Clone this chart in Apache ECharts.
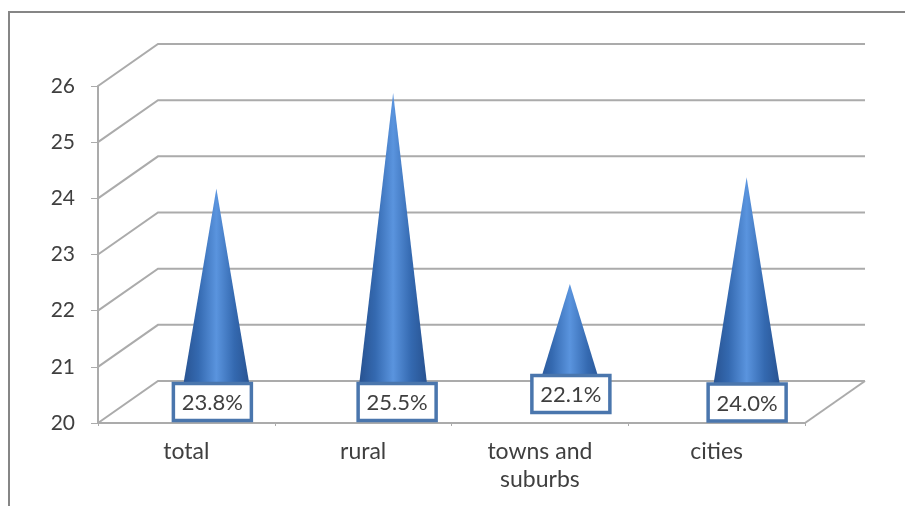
<!DOCTYPE html>
<html>
<head>
<meta charset="utf-8">
<style>html,body{margin:0;padding:0;background:#fff}#c{width:905px;height:506px}</style>
<script src="https://cdn.jsdelivr.net/npm/echarts@6/dist/echarts.min.js"></script>
</head>
<body>
<div id="c"></div>
<script>
const categories = ['total', 'rural', 'towns and\nsuburbs', 'cities'];
const shares = [23.8, 25.5, 22.1, 24.0];
const wallTicks = [20, 21, 22, 23, 24, 25, 26];

// Oblique projection of the pseudo-3D box: back wall sits up and to the right.
const DEPTH_X = 60, DEPTH_Y = -42;
const BASE_HALF = 36;
const GRID_COLOR = '#ababab';
const TEXT_COLOR = '#3f3f3f';
const FONT = 'Lato';

const coneFill = new echarts.graphic.LinearGradient(0, 0, 1, 0, [
  { offset: 0, color: '#264f8c' },
  { offset: 0.25, color: '#3469b0' },
  { offset: 0.5, color: '#5a94de' },
  { offset: 0.75, color: '#3469b0' },
  { offset: 1, color: '#264f8c' }
]);

function renderWall(params, api) {
  const rect = params.coordSys;
  const y = api.coord([0, wallTicks[params.dataIndex]])[1];
  const left = rect.x, right = rect.x + rect.width;
  const children = [{
    type: 'polyline',
    shape: { points: [[left, y], [left + DEPTH_X, y + DEPTH_Y], [right + DEPTH_X, y + DEPTH_Y]] },
    style: { stroke: GRID_COLOR, lineWidth: 2, fill: 'none' }
  }];
  if (params.dataIndex === 0) {
    children.push({
      type: 'line',
      shape: { x1: right, y1: y, x2: right + DEPTH_X, y2: y + DEPTH_Y },
      style: { stroke: GRID_COLOR, lineWidth: 2 }
    });
  }
  return { type: 'group', children };
}

function renderCone(params, api) {
  const idx = api.value(0);
  const tip = api.coord([idx, api.value(1)]);
  const foot = api.coord([idx, wallTicks[0]]);
  const cx = tip[0] + DEPTH_X / 2;
  const shift = DEPTH_Y / 2;
  return {
    type: 'polygon',
    shape: { points: [[cx, tip[1] + shift], [cx + BASE_HALF, foot[1] + shift], [cx - BASE_HALF, foot[1] + shift]] },
    style: { fill: coneFill }
  };
}

// Small hand placement of each callout relative to its cone's foot.
const calloutNudge = [[-4, 0], [4, 0], [1, -8], [0.5, 0.5]];

function renderCallout(params, api) {
  const idx = api.value(0);
  const foot = api.coord([idx, wallTicks[0]]);
  const n = calloutNudge[idx];
  const cx = foot[0] + DEPTH_X / 2 + n[0];
  const cy = foot[1] + DEPTH_Y / 2 + n[1];
  return {
    type: 'group',
    children: [{
      type: 'rect',
      shape: { x: cx - 39, y: cy - 18.5, width: 78, height: 37 },
      style: { fill: '#fff', stroke: '#4a76ad', lineWidth: 3.5 }
    }, {
      type: 'text',
      style: {
        x: cx, y: cy + 1, text: api.value(1).toFixed(1) + '%',
        align: 'center', verticalAlign: 'middle',
        font: '22px ' + FONT, fill: TEXT_COLOR
      }
    }]
  };
}

const chart = echarts.init(document.getElementById('c'), null, { renderer: 'canvas' });
chart.setOption({
  animation: false,
  backgroundColor: '#fff',
  tooltip: { show: false },
  graphic: [{
    type: 'polyline',
    silent: true,
    shape: { points: [[9, 506], [9, 12], [905, 12]] },
    style: { stroke: '#868686', lineWidth: 2, fill: 'none' }
  }],
  grid: { left: 98, right: 100, top: 86, bottom: 83 },
  xAxis: {
    type: 'category',
    data: categories,
    boundaryGap: true,
    axisLine: { lineStyle: { color: GRID_COLOR, width: 2 } },
    axisTick: { show: true, length: 3, lineStyle: { color: GRID_COLOR } },
    axisLabel: { color: TEXT_COLOR, fontFamily: FONT, fontSize: 23, lineHeight: 28, margin: 15, interval: 0 }
  },
  yAxis: {
    type: 'value',
    min: 20,
    max: 26,
    interval: 1,
    splitLine: { show: false },
    axisLine: { show: true, lineStyle: { color: GRID_COLOR, width: 2 } },
    axisTick: { show: true, length: 7, lineStyle: { color: GRID_COLOR } },
    axisLabel: { color: TEXT_COLOR, fontFamily: FONT, fontSize: 21, margin: 23, padding: [3, 0, 0, 0] }
  },
  series: [
    { type: 'custom', silent: true, z: 1, clip: false, renderItem: renderWall, data: wallTicks.map(v => [0, v]) },
    { type: 'custom', silent: true, z: 2, clip: false, renderItem: renderCone, data: shares.map((v, i) => [i, v]) },
    { type: 'custom', silent: true, z: 3, clip: false, renderItem: renderCallout, data: shares.map((v, i) => [i, v]) }
  ]
});
</script>
</body>
</html>
